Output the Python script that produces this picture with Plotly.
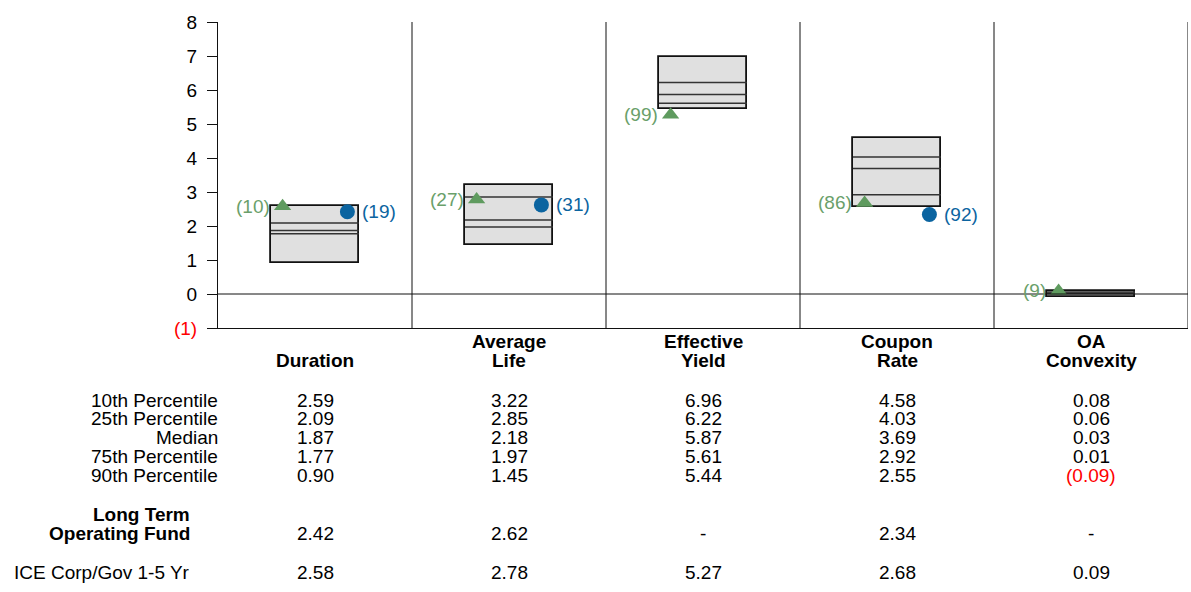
import plotly.graph_objects as go

# --- data -------------------------------------------------------------
categories = [["Duration"], ["Average", "Life"], ["Effective", "Yield"], ["Coupon", "Rate"], ["OA", "Convexity"]]
p10 = [2.59, 3.22, 6.96, 4.58, 0.08]
p25 = [2.09, 2.85, 6.22, 4.03, 0.06]
median = [1.87, 2.18, 5.87, 3.69, 0.03]
p75 = [1.77, 1.97, 5.61, 2.92, 0.01]
p90 = [0.90, 1.45, 5.44, 2.55, -0.09]

fund_name = ["Long Term", "Operating Fund"]
fund_values = [2.42, 2.62, None, 2.34, None]
fund_ranks = [19, 31, None, 92, None]

bench_name = "ICE Corp/Gov 1-5 Yr"
bench_values = [2.58, 2.78, 5.27, 2.68, 0.09]
bench_ranks = [10, 27, 99, 86, 9]

row_labels = ["10th Percentile", "25th Percentile", "Median", "75th Percentile", "90th Percentile"]
y_ticks = [-1, 0, 1, 2, 3, 4, 5, 6, 7, 8]

# --- styling ----------------------------------------------------------
FONT = "Liberation Sans, Arial, sans-serif"
FS = 19
BLUE = "#0b64a0"
GREEN = "#5f9b5f"
GREEN_TXT = "#6a9f6a"
RED = "#ff0000"
LINE = "#111111"
W, H = 1191, 592
ML, MR, MT, MB = 218, 3, 22, 264
PLOT_H = H - MT - MB

centers = [i + 0.5 for i in range(len(categories))]
BOX_W = 0.454
OFF = 0.167


def py(pixel_y):
    """Convert a page pixel row into paper coordinates."""
    return (H - MB - pixel_y) / PLOT_H


def fmt(v):
    if v is None:
        return "-"
    if v < 0:
        return f"<span style='color:{RED}'>({abs(v):.2f})</span>"
    return f"{v:.2f}"


def txt(x, y, text, xref="x", yref="paper", xanchor="center", color="#000", **kw):
    return dict(x=x, y=y, xref=xref, yref=yref, text=text, showarrow=False,
                xanchor=xanchor, yanchor="middle",
                font=dict(size=FS, family=FONT, color=color), **kw)


fig = go.Figure()

# percentile boxes (90th to 10th)
fig.add_trace(go.Bar(
    x=centers, base=p90, y=[a - b for a, b in zip(p10, p90)],
    width=BOX_W, marker=dict(color="#e0e0e0", line=dict(color=LINE, width=1.8)),
    hoverinfo="skip", showlegend=False,
))

# inner percentile lines
lx, ly = [], []
for series in (p25, median, p75):
    for xc, v in zip(centers, series):
        lx += [xc - BOX_W / 2, xc + BOX_W / 2, None]
        ly += [v, v, None]
fig.add_trace(go.Scatter(x=lx, y=ly, mode="lines", line=dict(color="#333333", width=1.5),
                         hoverinfo="skip", showlegend=False))

# fund and benchmark markers
fx = [c + OFF for c, v in zip(centers, fund_values) if v is not None]
fy = [v for v in fund_values if v is not None]
fig.add_trace(go.Scatter(x=fx, y=fy, mode="markers",
                         marker=dict(symbol="circle", size=15, color=BLUE),
                         showlegend=False, hoverinfo="skip"))
bx = [c - OFF for c in centers]
fig.add_trace(go.Scatter(x=bx, y=bench_values, mode="markers",
                         marker=dict(symbol="triangle-up", size=15, color=GREEN),
                         showlegend=False, hoverinfo="skip"))

annotations = []
for c, v, r in zip(centers, fund_values, fund_ranks):
    if v is not None:
        annotations.append(dict(x=c + OFF, y=v, xref="x", yref="y", text=f"({r})",
                                showarrow=False, xanchor="left", yanchor="middle", xshift=13,
                                font=dict(color=BLUE, size=FS, family=FONT)))
for c, v, r in zip(centers, bench_values, bench_ranks):
    annotations.append(dict(x=c - OFF, y=v, xref="x", yref="y", text=f"({r})",
                            showarrow=False, xanchor="right", yanchor="middle", xshift=-11,
                            font=dict(color=GREEN_TXT, size=FS, family=FONT)))

# category headers (bottom line sits at the same height for every panel)
for c, lines in zip(centers, categories):
    for k, line in enumerate(reversed(lines)):
        annotations.append(txt(c, py(360 - 19 * k), f"<b>{line}</b>"))

# percentile table
row_y = [400, 418.5, 437, 456, 475]
series_rows = [p10, p25, median, p75, p90]
for label, ypix, series in zip(row_labels, row_y, series_rows):
    annotations.append(txt(0, py(ypix), label, xref="paper", xanchor="right", xshift=2))
    for c, v in zip(centers, series):
        annotations.append(txt(c, py(ypix), fmt(v)))

# fund row
for k, line in enumerate(fund_name):
    annotations.append(txt(0, py(514 + 19 * k), f"<b>{line}</b>", xref="paper",
                           xanchor="right", xshift=-26))
for c, v in zip(centers, fund_values):
    annotations.append(txt(c, py(533), fmt(v)))

# benchmark row
annotations.append(txt(0, py(572), bench_name, xref="paper", xanchor="right", xshift=-26))
for c, v in zip(centers, bench_values):
    annotations.append(txt(c, py(572), fmt(v)))

# legend symbols beside the table rows
y_per_px = 9 / PLOT_H
fig.add_trace(go.Scatter(x=[0], y=[-1 - (533 - (H - MB)) * y_per_px], mode="markers",
                         marker=dict(symbol="circle", size=15, color=BLUE),
                         cliponaxis=False, showlegend=False, hoverinfo="skip"))
fig.add_trace(go.Scatter(x=[0], y=[-1 - (573 - (H - MB)) * y_per_px], mode="markers",
                         marker=dict(symbol="triangle-up", size=15, color=GREEN),
                         cliponaxis=False, showlegend=False, hoverinfo="skip"))

# zero line, panel separators and right border
shapes = [dict(type="line", xref="paper", yref="y", x0=0, x1=1, y0=0, y1=0,
               line=dict(color=LINE, width=1))]
for i in range(1, len(categories) + 1):
    shapes.append(dict(type="line", xref="x", yref="paper", x0=i, x1=i, y0=0, y1=1,
                       line=dict(color=LINE, width=1)))

ticktext = [f"<span style='color:{RED}'>({abs(t)})</span>" if t < 0 else str(t) for t in y_ticks]

fig.update_layout(
    width=W, height=H,
    margin=dict(l=ML, r=MR, t=MT, b=MB),
    plot_bgcolor="white", paper_bgcolor="white",
    font=dict(family=FONT, size=FS, color="#000"),
    annotations=annotations, shapes=shapes, bargap=0,
    xaxis=dict(range=[0, len(categories)], showticklabels=False, showgrid=False, zeroline=False,
               showline=True, linecolor=LINE, linewidth=1, ticks=""),
    yaxis=dict(range=[-1, 8], tickvals=y_ticks, ticktext=ticktext, showgrid=False, zeroline=False,
               showline=True, linecolor=LINE, linewidth=1, ticks="outside", ticklen=10,
               tickcolor=LINE, ticklabelstandoff=6,
               tickfont=dict(size=FS, family=FONT, color="#000")),
)

fig.write_html("out.html")
